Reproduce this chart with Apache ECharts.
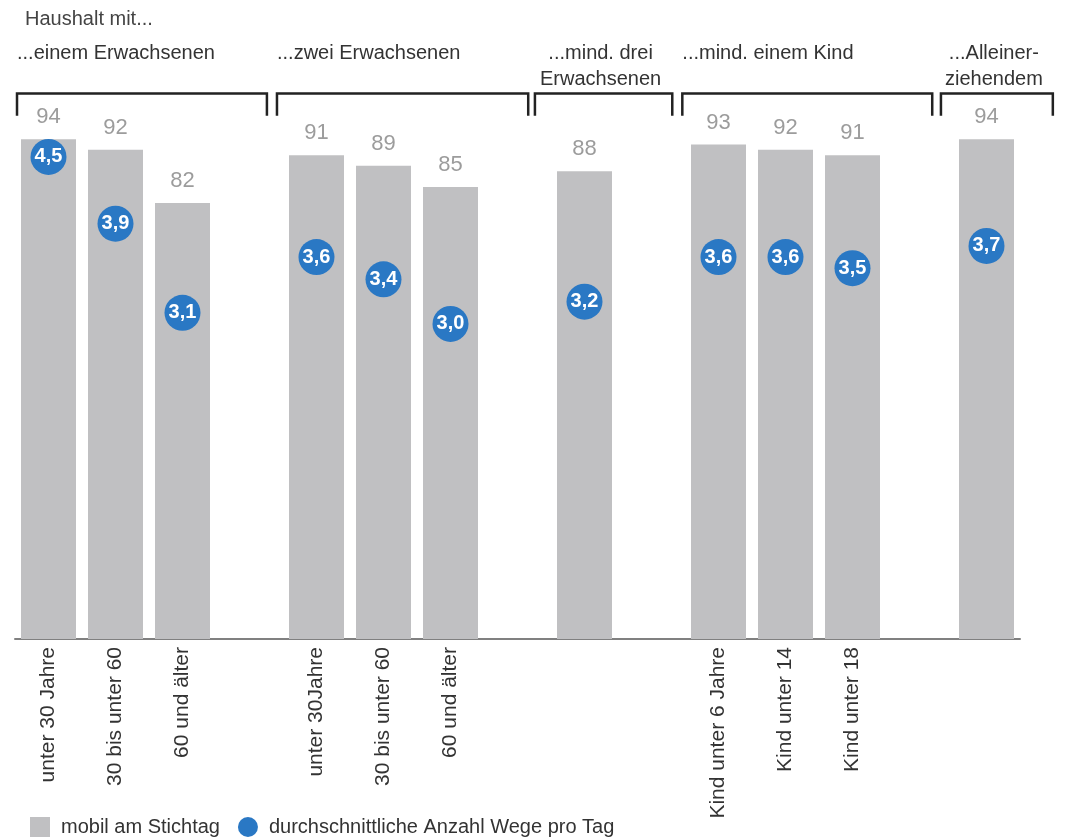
<!DOCTYPE html>
<html><head><meta charset="utf-8">
<script src="https://cdn.jsdelivr.net/npm/echarts@6/dist/echarts.min.js"></script>
<style>html,body{margin:0;padding:0;background:#fff}#c{width:1066px;height:838px}</style>
</head><body><div id="c"></div>
<script>
const titleText = 'Haushalt mit...';
const categories = ['unter 30 Jahre','30 bis unter 60','60 und älter','','unter 30Jahre','30 bis unter 60','60 und älter','','','','Kind unter 6 Jahre','Kind unter 14','Kind unter 18','',''];
const mobil = [94,92,82,'-',91,89,85,'-',88,'-',93,92,91,'-',94];
const wege = [4.5,3.9,3.1,'-',3.6,3.4,3.0,'-',3.2,'-',3.6,3.6,3.5,'-',3.7];
const seriesNames = ['mobil am Stichtag','durchschnittliche Anzahl Wege pro Tag'];
const groupLabels = ['...einem Erwachsenen','...zwei Erwachsenen','...mind. drei\nErwachsenen','...mind. einem Kind','...Alleiner-\nziehendem'];
const groupFrom = [-0.47,3.41,7.26,9.46,13.32];
const groupTo = [3.26,7.16,9.31,13.19,14.99];

const FONT = '"Liberation Sans", Arial, sans-serif';
const chart = echarts.init(document.getElementById('c'), null, {renderer:'canvas'});
const bracketData = groupLabels.map((l,i)=>[groupFrom[i], groupTo[i], i, 102.6]);

chart.setOption({
  animation:false,
  backgroundColor:'#fff',
  textStyle:{fontFamily:FONT},
  title:{text:titleText, left:20, top:4, textStyle:{fontSize:20, fontWeight:'normal', color:'#444', fontFamily:FONT}},
  legend:{
    left:25, top:812, itemWidth:20, itemHeight:20, itemGap:18,
    textStyle:{fontSize:20, color:'#333', fontFamily:FONT, padding:[0,0,0,6]},
    data:[{name:seriesNames[0], icon:'rect'},{name:seriesNames[1], icon:'circle'}]
  },
  grid:{left:15, right:46, top:1, bottom:199, containLabel:false},
  xAxis:[
    {type:'category', data:categories, boundaryGap:true,
     axisTick:{show:false},
     axisLine:{lineStyle:{color:'#808080', width:2}},
     axisLabel:{interval:0, rotate:90, margin:8, fontSize:21, color:'#333', fontFamily:FONT}},
    {type:'value', min:-0.5, max:14.5, show:false}
  ],
  yAxis:[
    {type:'value', min:0, max:120, show:false},
    {type:'value', min:0.17, max:5.9, show:false}
  ],
  series:[
    {name:seriesNames[0], type:'bar', data:mobil, barWidth:55, xAxisIndex:0, yAxisIndex:0,
     itemStyle:{color:'#c0c0c2'},
     label:{show:true, position:'top', distance:11, fontSize:22, color:'#9c9c9c', fontFamily:FONT}},
    {name:seriesNames[1], type:'scatter', data:wege, xAxisIndex:0, yAxisIndex:1, symbolSize:36, z:5,
     itemStyle:{color:'#2a78c4', opacity:1},
     label:{show:true, position:'inside', color:'#fff', fontWeight:'bold', fontSize:20, fontFamily:FONT,
       formatter:p=>Number(p.value).toFixed(1).replace('.',',')}},
    {name:'brackets', type:'custom', xAxisIndex:1, yAxisIndex:0, silent:true, z:3,
     encode:{x:[0,1], y:3},
     data:bracketData,
     renderItem:function(params, api){
       const x1 = api.value(0), x2 = api.value(1), i = api.value(2);
       const p1 = api.coord([x1, 102.6]);
       const p2 = api.coord([x2, 102.6]);
       const yb = api.coord([x1, 98.4])[1];
       const ty = api.coord([x1, 112.5])[1];
       const label = groupLabels[i];
       const multi = label.indexOf('\n') >= 0;
       return {type:'group', children:[
         {type:'polyline', shape:{points:[[p1[0],yb],[p1[0],p1[1]],[p2[0],p2[1]],[p2[0],yb]]},
          style:{stroke:'#222', lineWidth:2.5, fill:null}},
         {type:'text', x: multi ? (p1[0]+p2[0])/2 - 3 : p1[0], y: ty,
          style:{text:label, fill:'#333', fontSize:20, fontFamily:FONT, lineHeight:26,
                 align: multi ? 'center' : 'left', verticalAlign:'top'}}
       ]};
     }}
  ]
});
</script></body></html>
